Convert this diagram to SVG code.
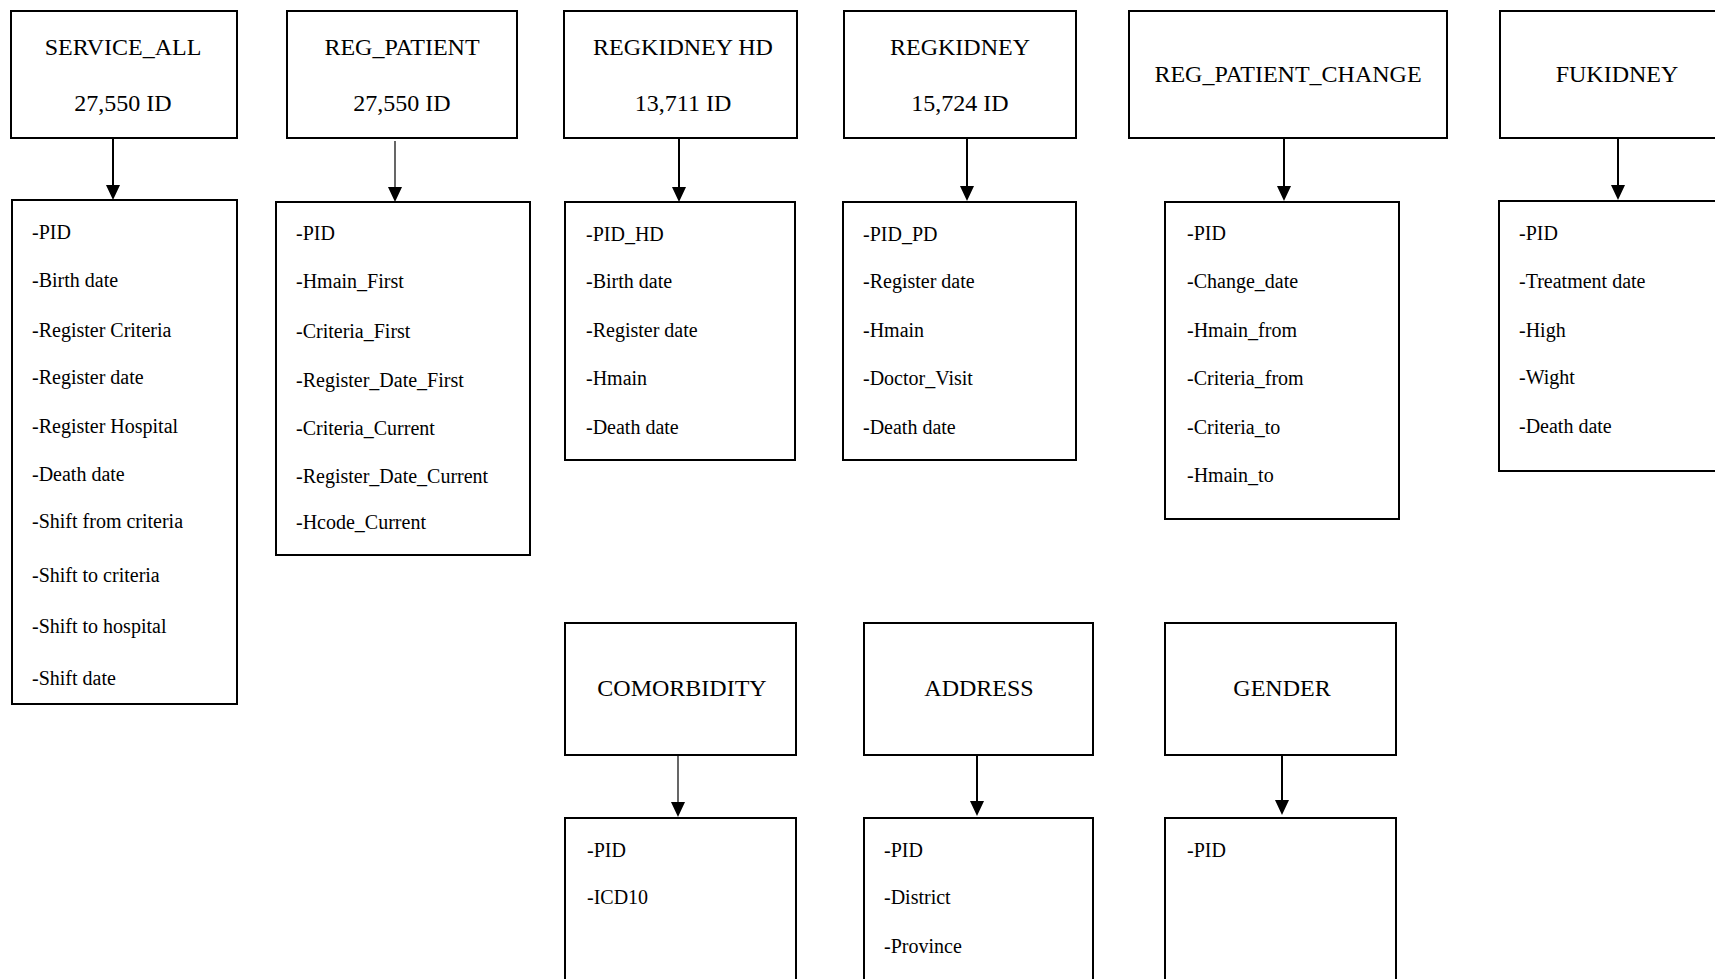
<svg xmlns="http://www.w3.org/2000/svg" width="1715" height="979" viewBox="0 0 1715 979">
<style>
rect.box{fill:#fff;stroke:#000;stroke-width:2}
text{font-family:"Liberation Serif","Times New Roman",serif;fill:#000}
.h{font-size:24px;text-anchor:middle}
.f{font-size:20px}
line.c{stroke:#000;stroke-width:2}
line.t{stroke:#000;stroke-width:1.2}
</style>
<defs>
<marker id="ah" viewBox="0 0 14 15" refX="7" refY="15" markerWidth="14" markerHeight="15" markerUnits="userSpaceOnUse" orient="auto-start-reverse">
<path d="M0,0 L14,0 L7,15 Z" fill="#000"/>
</marker>
</defs>
<rect width="1715" height="979" fill="#fff"/>
<g id="connectors">
<line class="c" x1="113" y1="139" x2="113" y2="185"/><path d="M106,185 L120,185 L113,200 Z"/>
<line class="t" x1="395" y1="141" x2="395" y2="187"/><path d="M388,187 L402,187 L395,202 Z"/>
<line class="c" x1="679" y1="139" x2="679" y2="187"/><path d="M672,187 L686,187 L679,202 Z"/>
<line class="c" x1="967" y1="139" x2="967" y2="186"/><path d="M960,186 L974,186 L967,201 Z"/>
<line class="c" x1="1284" y1="139" x2="1284" y2="186"/><path d="M1277,186 L1291,186 L1284,201 Z"/>
<line class="c" x1="1618" y1="139" x2="1618" y2="185"/><path d="M1611,185 L1625,185 L1618,200 Z"/>
<line class="t" x1="678" y1="756" x2="678" y2="802"/><path d="M671,802 L685,802 L678,817 Z"/>
<line class="c" x1="977" y1="756" x2="977" y2="801"/><path d="M970,801 L984,801 L977,816 Z"/>
<line class="c" x1="1282" y1="756" x2="1282" y2="800"/><path d="M1275,800 L1289,800 L1282,815 Z"/>
</g>
<g id="service_all">
<rect class="box" x="11" y="11" width="226" height="127"/>
<text class="h" x="123" y="55">SERVICE_ALL</text>
<text class="h" x="123" y="111">27,550 ID</text>
</g>
<g id="service_all_fields">
<rect class="box" x="12" y="200" width="225" height="504"/>
<text class="f" x="32" y="239">-PID</text>
<text class="f" x="32" y="287">-Birth date</text>
<text class="f" x="32" y="337">-Register Criteria</text>
<text class="f" x="32" y="384">-Register date</text>
<text class="f" x="32" y="433">-Register Hospital</text>
<text class="f" x="32" y="481">-Death date</text>
<text class="f" x="32" y="528">-Shift from criteria</text>
<text class="f" x="32" y="582">-Shift to criteria</text>
<text class="f" x="32" y="633">-Shift to hospital</text>
<text class="f" x="32" y="685">-Shift date</text>
</g>
<g id="reg_patient">
<rect class="box" x="287" y="11" width="230" height="127"/>
<text class="h" x="402" y="55">REG_PATIENT</text>
<text class="h" x="402" y="111">27,550 ID</text>
</g>
<g id="reg_patient_fields">
<rect class="box" x="276" y="202" width="254" height="353"/>
<text class="f" x="296" y="240">-PID</text>
<text class="f" x="296" y="288">-Hmain_First</text>
<text class="f" x="296" y="338">-Criteria_First</text>
<text class="f" x="296" y="387">-Register_Date_First</text>
<text class="f" x="296" y="435">-Criteria_Current</text>
<text class="f" x="296" y="483">-Register_Date_Current</text>
<text class="f" x="296" y="529">-Hcode_Current</text>
</g>
<g id="regkidney_hd">
<rect class="box" x="564" y="11" width="233" height="127"/>
<text class="h" x="683" y="55">REGKIDNEY HD</text>
<text class="h" x="683" y="111">13,711 ID</text>
</g>
<g id="regkidney_hd_fields">
<rect class="box" x="565" y="202" width="230" height="258"/>
<text class="f" x="586" y="241">-PID_HD</text>
<text class="f" x="586" y="288">-Birth date</text>
<text class="f" x="586" y="337">-Register date</text>
<text class="f" x="586" y="385">-Hmain</text>
<text class="f" x="586" y="434">-Death date</text>
</g>
<g id="regkidney">
<rect class="box" x="844" y="11" width="232" height="127"/>
<text class="h" x="960" y="55">REGKIDNEY</text>
<text class="h" x="960" y="111">15,724 ID</text>
</g>
<g id="regkidney_fields">
<rect class="box" x="843" y="202" width="233" height="258"/>
<text class="f" x="863" y="241">-PID_PD</text>
<text class="f" x="863" y="288">-Register date</text>
<text class="f" x="863" y="337">-Hmain</text>
<text class="f" x="863" y="385">-Doctor_Visit</text>
<text class="f" x="863" y="434">-Death date</text>
</g>
<g id="reg_patient_change">
<rect class="box" x="1129" y="11" width="318" height="127"/>
<text class="h" x="1288" y="82">REG_PATIENT_CHANGE</text>
</g>
<g id="reg_patient_change_fields">
<rect class="box" x="1165" y="202" width="234" height="317"/>
<text class="f" x="1187" y="240">-PID</text>
<text class="f" x="1187" y="288">-Change_date</text>
<text class="f" x="1187" y="337">-Hmain_from</text>
<text class="f" x="1187" y="385">-Criteria_from</text>
<text class="f" x="1187" y="434">-Criteria_to</text>
<text class="f" x="1187" y="482">-Hmain_to</text>
</g>
<g id="fukidney">
<rect class="box" x="1500" y="11" width="240" height="127"/>
<text class="h" x="1617" y="82">FUKIDNEY</text>
</g>
<g id="fukidney_fields">
<rect class="box" x="1499" y="201" width="240" height="270"/>
<text class="f" x="1519" y="240">-PID</text>
<text class="f" x="1519" y="288">-Treatment date</text>
<text class="f" x="1519" y="337">-High</text>
<text class="f" x="1519" y="384">-Wight</text>
<text class="f" x="1519" y="433">-Death date</text>
</g>
<g id="comorbidity">
<rect class="box" x="565" y="623" width="231" height="132"/>
<text class="h" x="682" y="696">COMORBIDITY</text>
</g>
<g id="comorbidity_fields">
<rect class="box" x="565" y="818" width="231" height="180"/>
<text class="f" x="587" y="857">-PID</text>
<text class="f" x="587" y="904">-ICD10</text>
</g>
<g id="address">
<rect class="box" x="864" y="623" width="229" height="132"/>
<text class="h" x="979" y="696">ADDRESS</text>
</g>
<g id="address_fields">
<rect class="box" x="864" y="818" width="229" height="180"/>
<text class="f" x="884" y="857">-PID</text>
<text class="f" x="884" y="904">-District</text>
<text class="f" x="884" y="953">-Province</text>
</g>
<g id="gender">
<rect class="box" x="1165" y="623" width="231" height="132"/>
<text class="h" x="1282" y="696">GENDER</text>
</g>
<g id="gender_fields">
<rect class="box" x="1165" y="818" width="231" height="180"/>
<text class="f" x="1187" y="857">-PID</text>
</g>
</svg>
